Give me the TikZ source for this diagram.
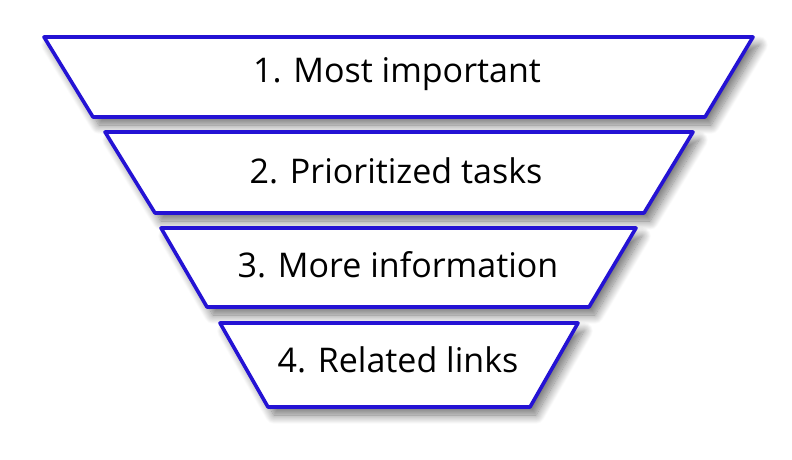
\documentclass[tikz,border=0pt]{standalone}
\usepackage{fontspec}
\setmainfont{Open Sans}
\usetikzlibrary{shadows.blur}
\definecolor{funnelblue}{RGB}{36,18,212}
\tikzset{
  layer/.style={draw=funnelblue, line width=3.6pt, fill=white, line join=round,
    blur shadow={shadow xshift=6pt, shadow yshift=-8pt, shadow blur radius=9pt,
      shadow opacity=55, shadow blur steps=14}},
  label/.style={font=\fontsize{34}{40}\selectfont, text=black, anchor=center}
}
\begin{document}
\begin{tikzpicture}[x=1pt, y=-1pt]
  \useasboundingbox (0,0) rectangle (792,459);
  % funnel layers, widest at the top
  \path[layer] (44,37) -- (753,37) -- (705,117) -- (93,117) -- cycle;
  \path[layer] (105,132) -- (693,132) -- (644,213) -- (155,213) -- cycle;
  \path[layer] (161,228) -- (636,228) -- (589,307) -- (207,307) -- cycle;
  \path[layer] (220,323) -- (578,323) -- (530,407) -- (268,407) -- cycle;
  % labels
  \node[label] (l1) at (397,74) {1. Most important};
  \node[label] (l2) at (396,171) {2. Prioritized tasks};
  \node[label] (l3) at (398,265) {3. More information};
  \node[label] (l4) at (398,360) {4. Related links};
\end{tikzpicture}
\end{document}
